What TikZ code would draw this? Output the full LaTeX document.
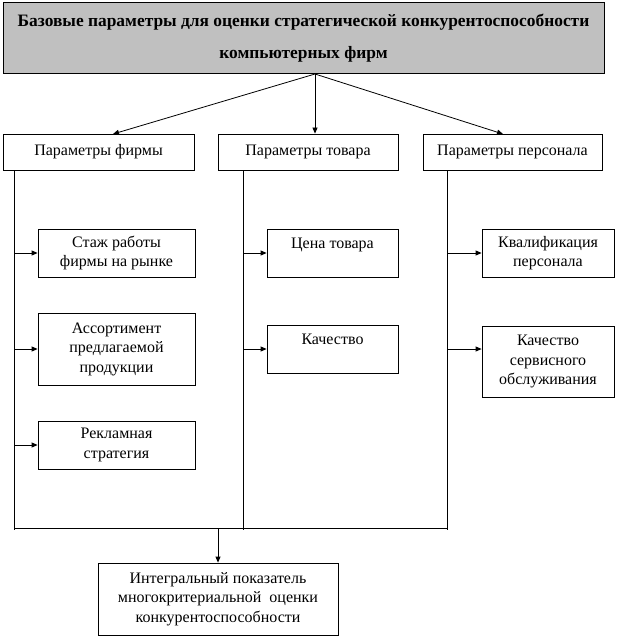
\documentclass[tikz,border=0pt]{standalone}
\usepackage{fontspec}
\setmainfont{Liberation Serif}
\usetikzlibrary{arrows.meta}

\begin{document}
\begin{tikzpicture}[x=1pt, y=-1pt]
    \tikzstyle{mainbox} = [rectangle, draw, line width=1pt, fill={rgb,255:red,192;green,192;blue,192}, inner sep=0pt, minimum width=601pt, minimum height=71pt, align=center, font=\bfseries\fontsize{17.4}{32}\selectfont]
    \tikzstyle{groupbox} = [rectangle, draw, line width=0.8pt, inner sep=0pt, minimum height=36pt, font=\fontsize{16}{19.5}\selectfont]
    \tikzstyle{itembox} = [rectangle, draw, line width=0.8pt, inner sep=0pt, align=center, font=\fontsize{16}{19.5}\selectfont]
    \tikzstyle{link} = [line width=0.8pt]
    \tikzstyle{arrowlink} = [line width=0.8pt, -{Triangle[length=6pt, width=5pt]}]
    \useasboundingbox (0,0) rectangle (618,639);
    % top level
    \node[mainbox] (base) at (303.5, 38.5) {Базовые параметры для оценки стратегической конкурентоспособности\\компьютерных фирм};
    \node[groupbox, minimum width=191pt] (firm) at (98.5, 152) {Параметры фирмы};
    \node[groupbox, minimum width=180pt] (good) at (308, 152) {Параметры товара};
    \node[groupbox, minimum width=179pt] (staff) at (512.5, 152) {Параметры персонала};
    \coordinate (src) at (315, 74);
    \draw[arrowlink] (src) -- (113, 134); \draw[arrowlink] (src) -- (good.north -| src);
    \draw[arrowlink] (src) -- (503, 134);
    % items
    \node[itembox, minimum width=157pt, minimum height=48pt] (f1) at (116.5, 253) {Стаж работы\\фирмы на рынке};
    \node[itembox, minimum width=157pt, minimum height=72pt] (f2) at (116.5, 349) {Ассортимент\\предлагаемой\\продукции};
    \node[itembox, minimum width=157pt, minimum height=48pt] (f3) at (116.5, 445) {Рекламная\\стратегия};
    \node[itembox, minimum width=131pt, minimum height=48pt] (g1) at (332.5, 253) {Цена товара\\~};
    \node[itembox, minimum width=131pt, minimum height=48pt] (g2) at (332.5, 349) {Качество\\~};
    \node[itembox, minimum width=132pt, minimum height=48pt] (s1) at (548, 253) {Квалификация\\персонала};
    \node[itembox, minimum width=132pt, minimum height=71pt] (s2) at (548, 361.5) {Качество\\сервисного\\обслуживания};
    \node[itembox, minimum width=240pt, minimum height=72pt] (total) at (218, 599) {Интегральный показатель\\многокритериальной~ оценки\\конкурентоспособности};
    % branch lines
    \coordinate (fend) at (14, 530); \coordinate (gend) at (243, 530); \coordinate (send) at (447, 530);
    \draw[link] (firm.south -| fend) -- (fend); \draw[link] (good.south -| gend) -- (gend);
    \draw[link] (staff.south -| send) -- (send);
    \draw[link] (14, 528) -- (447, 528);
    \draw[arrowlink] (fend |- f1) -- (f1.west); \draw[arrowlink] (fend |- f2) -- (f2.west);
    \draw[arrowlink] (fend |- f3) -- (f3.west);
    \draw[arrowlink] (gend |- g1) -- (g1.west); \draw[arrowlink] (gend |- g2) -- (g2.west);
    \draw[arrowlink] (send |- s1) -- (s1.west); \draw[arrowlink] (send |- g2) -- (g2 -| s2.west);
    \draw[arrowlink] (total.north |- 0, 528) -- (total.north);
\end{tikzpicture}
\end{document}
